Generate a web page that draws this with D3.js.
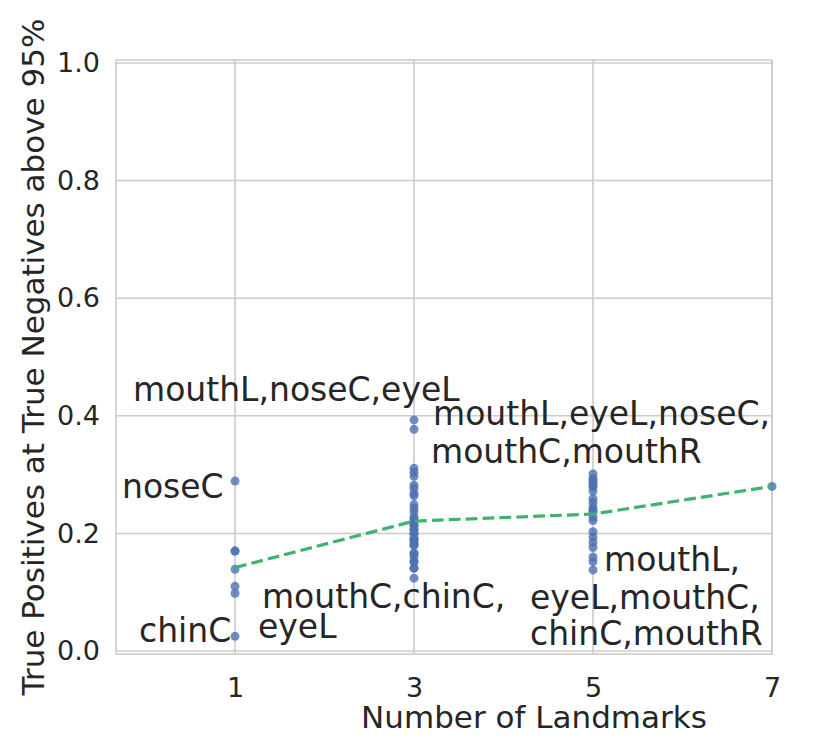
<!DOCTYPE html>
<html>
<head>
<meta charset="utf-8">
<script src="https://cdn.jsdelivr.net/npm/d3@7"></script>
<style>
  html, body { margin: 0; padding: 0; background: #fff; }
  svg { display: block; font-family: "DejaVu Sans", sans-serif; }
</style>
</head>
<body>
<svg id="chart" width="831" height="740"></svg>
<script>
// ---- data ----
const landmarkCounts = [1, 3, 5, 7];

const scoresOne = [0.289, 0.170, 0.170, 0.139, 0.110, 0.098, 0.025];
const scoresThree = [0.393, 0.377, 0.311, 0.304, 0.297, 0.282, 0.277, 0.268, 0.264, 0.249,
  0.243, 0.237, 0.228, 0.225, 0.221, 0.214, 0.214, 0.207, 0.207, 0.200, 0.200, 0.191, 0.191,
  0.188, 0.185, 0.180, 0.180, 0.166, 0.166, 0.160, 0.152, 0.152, 0.141, 0.141, 0.124];
const scoresFive = [0.301, 0.293, 0.290, 0.286, 0.282, 0.279, 0.272, 0.259, 0.252, 0.244,
  0.240, 0.237, 0.228, 0.222, 0.203, 0.194, 0.185, 0.176, 0.160, 0.152, 0.138];
const scoresSeven = [0.280];

const trendValues = [0.142, 0.221, 0.233, 0.280];

const xTicks = [1, 3, 5, 7];
const yTicks = [0.0, 0.2, 0.4, 0.6, 0.8, 1.0];

const annotations = [
  { text: "mouthL,noseC,eyeL", x: -0.14, y: 0.425 },
  { text: "noseC", x: -0.263, y: 0.260 },
  { text: "chinC", x: -0.073, y: 0.015 },
  { text: "mouthC,chinC,", x: 1.301, y: 0.073 },
  { text: "eyeL", x: 1.257, y: 0.022 },
  { text: "mouthL,eyeL,noseC,", x: 3.212, y: 0.384 },
  { text: "mouthC,mouthR", x: 3.19, y: 0.320 },
  { text: "mouthL,", x: 5.123, y: 0.136 },
  { text: "eyeL,mouthC,", x: 4.296, y: 0.0714 },
  { text: "chinC,mouthR", x: 4.296, y: 0.010 }
];

const xLabel = "Number of Landmarks";
const yLabel = "True Positives at True Negatives above 95%";

// ---- chart ----
const svg = d3.select("#chart");
const plotLeft = 116, plotRight = 772, plotTop = 60, plotBottom = 654;

const x = d3.scaleLinear().domain([-0.33, 7]).range([plotLeft, plotRight]);
const y = d3.scaleLinear().domain([-0.005, 1.005]).range([plotBottom, plotTop]);

const gridColor = "#cccccc";
const textColor = "#262626";

// grid
const g = svg.append("g");
g.selectAll("line.gx").data(xTicks).join("line")
  .attr("x1", d => x(d)).attr("x2", d => x(d))
  .attr("y1", plotTop).attr("y2", plotBottom)
  .attr("stroke", gridColor).attr("stroke-width", 1.6);
g.selectAll("line.gy").data(yTicks).join("line")
  .attr("x1", plotLeft).attr("x2", plotRight)
  .attr("y1", d => y(d)).attr("y2", d => y(d))
  .attr("stroke", gridColor).attr("stroke-width", 1.6);

// spines
svg.append("rect")
  .attr("x", plotLeft).attr("y", plotTop)
  .attr("width", plotRight - plotLeft).attr("height", plotBottom - plotTop)
  .attr("fill", "none").attr("stroke", gridColor).attr("stroke-width", 1.6);

// axes tick labels via d3 axes
const xAxis = d3.axisBottom(x).tickValues(xTicks).tickFormat(d3.format("d")).tickSize(0).tickPadding(24);
const yAxis = d3.axisLeft(y).tickValues(yTicks).tickFormat(d3.format(".1f")).tickSize(0).tickPadding(16);

const gx = svg.append("g").attr("transform", `translate(0,${plotBottom})`).call(xAxis);
const gy = svg.append("g").attr("transform", `translate(${plotLeft},0)`).call(yAxis);
[gx, gy].forEach(a => {
  a.select(".domain").remove();
  a.selectAll("text")
    .attr("fill", textColor)
    .style("font-family", "'DejaVu Sans', sans-serif")
    .style("font-size", "27px");
});

// points
const columns = [scoresOne, scoresThree, scoresFive, scoresSeven];
const pts = [];
columns.forEach((arr, i) => arr.forEach(v => pts.push({ k: landmarkCounts[i], v })));
svg.append("g").selectAll("circle").data(pts).join("circle")
  .attr("cx", d => x(d.k)).attr("cy", d => y(d.v))
  .attr("r", 4.5)
  .attr("fill", "#4c72b0").attr("fill-opacity", 0.8);

// trend line
const line = d3.line().x((d, i) => x(landmarkCounts[i])).y(d => y(d));
svg.append("path").datum(trendValues)
  .attr("d", line)
  .attr("fill", "none")
  .attr("stroke", "#3eb370")
  .attr("stroke-width", 3.2)
  .attr("stroke-dasharray", "11.8,5.1");

// annotations
svg.append("g").selectAll("text").data(annotations).join("text")
  .attr("x", d => x(d.x)).attr("y", d => y(d.y))
  .attr("fill", textColor)
  .style("font-size", "33px")
  .text(d => d.text);

// axis labels
svg.append("text")
  .attr("x", 534).attr("y", 728)
  .attr("text-anchor", "middle")
  .attr("fill", textColor)
  .style("font-size", "31px")
  .text(xLabel);

svg.append("text")
  .attr("transform", `translate(44,${(plotTop + plotBottom) / 2}) rotate(-90)`)
  .attr("text-anchor", "middle")
  .attr("fill", textColor)
  .style("font-size", "31px")
  .text(yLabel);
</script>
</body>
</html>
